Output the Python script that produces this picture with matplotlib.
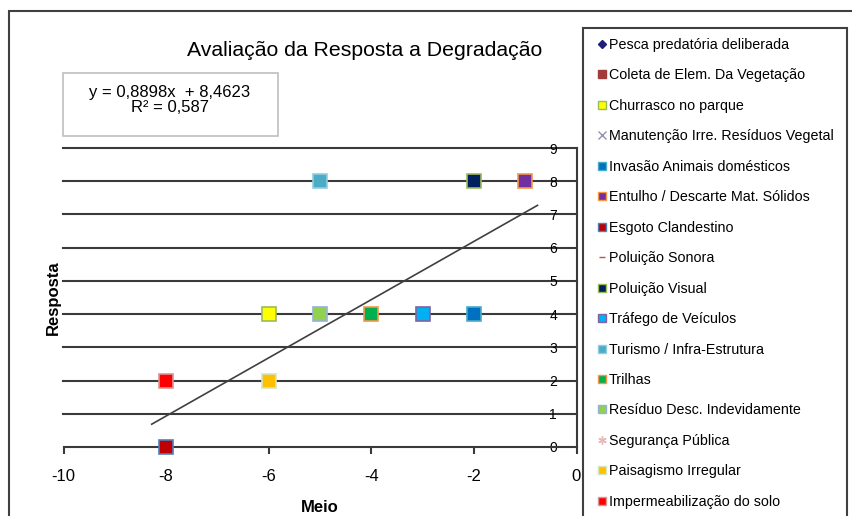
import matplotlib.pyplot as plt
from matplotlib.lines import Line2D
from matplotlib.patches import Rectangle

plt.rcParams['font.family'] = ['Liberation Sans', 'DejaVu Sans']

# dados do gráfico
series_names = ['Pesca predatória deliberada', 'Coleta de Elem. Da Vegetação', 'Churrasco no parque',
                'Manutenção Irre. Resíduos Vegetal', 'Invasão Animais domésticos',
                'Entulho / Descarte Mat. Sólidos', 'Esgoto Clandestino', 'Poluição Sonora',
                'Poluição Visual', 'Tráfego de Veículos', 'Turismo / Infra-Estrutura', 'Trilhas',
                'Resíduo Desc. Indevidamente', 'Segurança Pública', 'Paisagismo Irregular',
                'Impermeabilização do solo']
series_x = [[], [], [-6], [], [-2], [-1], [-8], [], [-2], [-3], [-5], [-4], [-5], [], [-6], [-8]]
series_y = [[], [], [4], [], [4], [8], [0], [], [8], [4], [8], [4], [4], [], [2], [2]]

# linha de tendência (como aparece no gráfico)
trend_slope = 0.876
trend_intercept = 7.94
trend_x = [-8.28, -0.76]
equation_text = 'y = 0,8898x  + 8,4623\nR² = 0,587'

x_ticks = [-10, -8, -6, -4, -2, 0]
y_ticks = list(range(0, 10))

# estilos: (marcador, preenchimento, borda)
styles = [('D', '#1F1F7A', '#1F1F7A'), ('s', '#A33B3B', '#A33B3B'), ('s', '#FFFF00', '#9BBB59'),
          ('x', '#9A8FB0', '#9A8FB0'), ('s', '#0070C0', '#4BACC6'), ('s', '#7030A0', '#F79646'),
          ('s', '#C00000', '#4F81BD'), ('_', '#C0504D', '#C0504D'), ('s', '#002060', '#9BBB59'),
          ('s', '#00B0F0', '#8064A2'), ('s', '#4BACC6', '#93CDDD'), ('s', '#00B050', '#F79646'),
          ('s', '#92D050', '#95B3D7'), ((6, 2, 0), '#E6B9B8', '#E6B9B8'), ('s', '#FFC000', '#D7E4BD'),
          ('s', '#FF0000', '#D99694')]

fig = plt.figure(figsize=(8.52, 5.16), dpi=100)
ax = fig.add_axes([63.5 / 852, 1 - 447 / 516, 513 / 852, 299 / 516])

for yv in y_ticks[1:]:
    ax.axhline(yv, color='#3a3a3a', lw=1.5, zorder=1, clip_on=False)

tx = trend_x
ty = [trend_slope * v + trend_intercept for v in tx]
ax.plot(tx, ty, color='#404040', lw=1.2, zorder=2)

handles = []
for name, xs, ys, (m, fc, ec) in zip(series_names, series_x, series_y, styles):
    ax.plot(xs, ys, linestyle='none', marker=m, markersize=9.5, markerfacecolor=fc,
            markeredgecolor=ec, markeredgewidth=1.2, zorder=3, clip_on=False)
    size = {'D': 4.5, '_': 5}.get(m, 6) if isinstance(m, str) else 6
    handles.append(Line2D([], [], linestyle='none', marker=m, markersize=size,
                          markerfacecolor=fc, markeredgecolor=ec, markeredgewidth=1.0))

ax.set_xlim(-10, 0)
ax.set_ylim(0, 9)
ax.set_xticks(x_ticks)
ax.set_yticks(y_ticks)
ax.set_xticklabels([str(v) for v in x_ticks], fontsize=12)
ax.set_yticklabels([str(v) for v in y_ticks], fontsize=12.5)

for s in ['top', 'right']:
    ax.spines[s].set_visible(False)
ax.spines['left'].set_position(('data', 0))
ax.spines['left'].set_color('#3a3a3a')
ax.spines['left'].set_linewidth(1.5)
ax.spines['bottom'].set_color('#3a3a3a')
ax.spines['bottom'].set_linewidth(1.5)
ax.tick_params(axis='x', direction='out', length=5, width=1.5, color='#3a3a3a', pad=11)
ax.tick_params(axis='y', length=0, pad=14)

fig.text(365 / 852, 1 - 51 / 516, 'Avaliação da Resposta a Degradação', fontsize=15.3,
         ha='center', va='center')
fig.text(320 / 852, 1 - 507 / 516, 'Meio', fontsize=12, fontweight='bold', ha='center', va='center')
fig.text(53 / 852, 1 - 298 / 516, 'Resposta', fontsize=12, fontweight='bold', ha='center',
         va='center', rotation=90)

# caixa da equação
fig.patches.append(Rectangle((63 / 852, 1 - 136 / 516), 215 / 852, 63 / 516,
                             transform=fig.transFigure, fill=False, ec='#BFBFBF', lw=1.2))
fig.text(170 / 852, 1 - 100 / 516, equation_text, fontsize=12, ha='center', va='center',
         linespacing=1.0)

# moldura externa
fig.patches.append(Rectangle((9 / 852, -0.1), 1.2, 1.1 - 11 / 516, transform=fig.transFigure,
                             fill=False, ec='#404040', lw=1.5, clip_on=False))

# caixa da legenda (continua abaixo do recorte)
fig.patches.append(Rectangle((583 / 852, -0.1), 264 / 852, 1.1 - 28 / 516, transform=fig.transFigure,
                             fill=False, ec='#404040', lw=1.5, clip_on=False))

leg = fig.legend(handles, series_names, loc='upper left',
                 bbox_to_anchor=(598.5 / 852, 1 - 38 / 516),
                 fontsize=10.3, labelspacing=1.15, handlelength=0.5, handletextpad=0.2,
                 borderpad=0, borderaxespad=0, frameon=False)

fig.savefig('out.png', dpi=100)
